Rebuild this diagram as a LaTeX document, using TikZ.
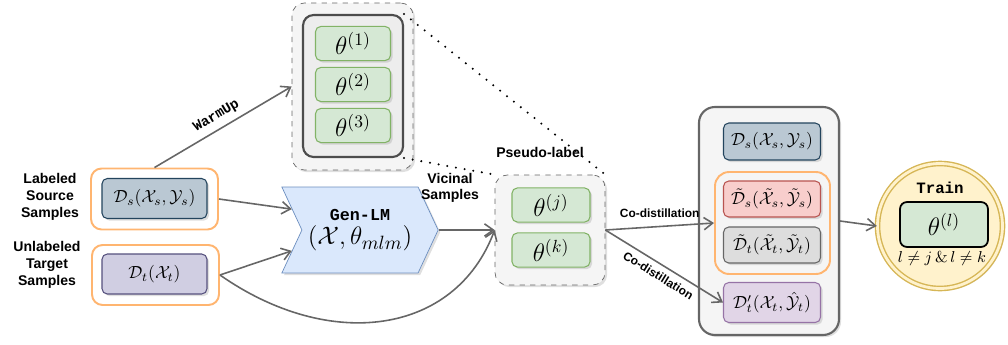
\documentclass[tikz,border=0pt]{standalone}
\usepackage{amsmath, amssymb}
\usepackage{fontspec}
\setsansfont{Liberation Sans}
\setmonofont{Liberation Mono}
\usepackage{xcolor}
\usepackage{tikz}
\usetikzlibrary{calc, positioning, arrows.meta, shapes.symbols, shadows}
\definecolor{edge}{HTML}{666666}
\definecolor{orng}{HTML}{FFB570}
\definecolor{dsfill}{HTML}{BAC8D3}
\definecolor{dsline}{HTML}{23445D}
\definecolor{dtfill}{HTML}{D0CEE2}
\definecolor{dtline}{HTML}{56517E}
\definecolor{grnfill}{HTML}{D5E8D4}
\definecolor{grnline}{HTML}{82B366}
\definecolor{redfill}{HTML}{F8CECC}
\definecolor{redline}{HTML}{B85450}
\definecolor{gryfill}{HTML}{DDDDDD}
\definecolor{purfill}{HTML}{E1D5E7}
\definecolor{purline}{HTML}{9673A6}
\definecolor{genfill}{HTML}{DAE8FC}
\definecolor{genline}{HTML}{6C8EBF}
\definecolor{gold}{HTML}{D6B656}
\definecolor{goldfill}{HTML}{FFF2CC}
\definecolor{panel}{HTML}{F5F5F5}

\begin{document}
\begin{tikzpicture}[x=0.02cm, y=-0.02cm,
    lbl/.style={align=center, font=\sffamily\bfseries\footnotesize},
    small lbl/.style={text=black, font=\sffamily\bfseries\fontsize{6.8}{7.8}\selectfont},
    tt/.style={font=\ttfamily\bfseries\small},
    shade/.style={drop shadow={shadow xshift=1.2pt, shadow yshift=-1.2pt, opacity=0.25}},
    box/.style={shade, rounded corners=3pt, line width=0.6pt, align=center,
                minimum width=2.1cm, minimum height=0.8cm},
    wrap/.style={draw=orng, fill=white, line width=1.1pt, rounded corners=6pt,
                 minimum width=2.54cm, minimum height=1.22cm},
    theta/.style={box, draw=grnline, fill=grnfill, font=\Large,
                  minimum width=1.5cm, minimum height=0.66cm},
    group/.style={draw=edge, fill=panel, dashed, rounded corners=7pt, shade},
    arr/.style={-{Straight Barb[length=5pt, width=7pt]}, line width=0.9pt, edge},
    dots/.style={dash pattern=on 0pt off 5pt, line width=1.3pt, line cap=round}
  ]
    \useasboundingbox (0,0) rectangle (1008,345);

    % inputs
    \node[lbl] (srclbl) at (50,197) {Labeled\\Source\\Samples};
    \node[lbl] (tgtlbl) at (47,265) {Unlabeled\\Target\\Samples};
    \node[wrap] (dsw) at (154.5,199) {};
    \node[box, draw=dsline, fill=dsfill] (ds) at (154.5,198.5) {$\mathcal{D}_s(\mathcal{X}_s,\mathcal{Y}_s)$};
    \node[wrap, minimum height=1.2cm] (dtw) at (155.5,275) {};
    \node[box, draw=dtline, fill=dtfill] (dt) at (154.5,274) {$\mathcal{D}_t(\mathcal{X}_t)$};

    % warm-up models
    \node[group, minimum width=2.42cm, minimum height=3.34cm] (warm) at (352.5,86.5) {};
    \node[draw=black!70, fill=black!7, line width=1.2pt, rounded corners=6pt,
          minimum width=2cm, minimum height=2.84cm] (warmin) at (353,86) {};
    \node[theta] (th1) at (353,43.5) {$\theta^{(1)}$};
    \node[theta] (th2) at (353,84.5) {$\theta^{(2)}$};
    \node[theta] (th3) at (353,125.5) {$\theta^{(3)}$};

    % generator
    \node[signal, signal from=west, signal to=east, signal pointer angle=130,
          draw=genline, fill=genfill, shade, minimum width=2.9cm, minimum height=1.72cm,
          align=center] (gen) at (360,230)
          {{\ttfamily\bfseries\fontsize{9.5}{11}\selectfont Gen-LM}\\[2pt]{\fontsize{15}{18}\selectfont$(\mathcal{X},\theta_{mlm})$}};
    \node[lbl] (vicinal) at (450,188) {Vicinal\\Samples};

    % pseudo-labelling models
    \node[group, minimum width=2.2cm, minimum height=2.2cm] (pseudo) at (550,230) {};
    \node[theta, minimum width=1.56cm, minimum height=0.68cm] (thj) at (551,205) {$\theta^{(j)}$};
    \node[theta, minimum width=1.56cm, minimum height=0.68cm] (thk) at (551,250) {$\theta^{(k)}$};
    \node[lbl] (pslbl) at (540,152) {Pseudo-label};

    % co-distillation data
    \node[draw=edge, fill=panel, line width=1.2pt, rounded corners=9pt, shade,
          minimum width=2.8cm, minimum height=4.56cm] (pool) at (769,221) {};
    \node[box, draw=dsline, fill=dsfill, minimum width=1.94cm, minimum height=0.74cm] (ds2) at (772,141.5) {$\mathcal{D}_s(\mathcal{X}_s,\mathcal{Y}_s)$};
    \node[draw=orng, line width=1.1pt, rounded corners=8pt,
          minimum width=2.3cm, minimum height=2.04cm] (mixed) at (772.5,223) {};
    \node[box, draw=redline, fill=redfill, minimum width=1.94cm, minimum height=0.72cm] (dsv) at (772,199) {$\tilde{\mathcal{D}}_s(\tilde{\mathcal{X}}_s,\tilde{\mathcal{Y}}_s)$};
    \node[box, draw=edge, fill=gryfill, minimum width=1.94cm, minimum height=0.72cm] (dtv) at (772,245) {$\tilde{\mathcal{D}}_t(\tilde{\mathcal{X}}_t,\tilde{\mathcal{Y}}_t)$};
    \node[box, draw=purline, fill=purfill, minimum width=1.94cm, minimum height=0.8cm] (dtp) at (772,302.5) {$\mathcal{D}'_t(\mathcal{X}_t,\hat{\mathcal{Y}}_t)$};

    % final training
    \node[circle, draw=gold, double=goldfill, double distance=1.6pt, line width=0.8pt,
          fill=goldfill, shade, minimum size=2.5cm] (train) at (940,226) {};
    \node[tt] (trainlbl) at (940,188) {Train};
    \node[draw=black, fill=grnfill, line width=1pt, rounded corners=4pt, font=\Large,
          minimum width=1.76cm, minimum height=0.9cm] (thl) at (944,224.5) {$\theta^{(l)}$};
    \node[font=\small, inner sep=0pt] (cond) at (942,258) {$l\neq j\,\&\,l\neq k$};

    \draw[dots] (warmin.north east) -- (pseudo.north east);
    \draw[dots] (warmin.south east) -- (pseudo.north west);

    \draw[arr] (dsw.north) -- node[sloped, above, text=black, font=\ttfamily\bfseries\footnotesize] {WarmUp} (warm.west);
    \draw[arr] (dsw.east) -- (gen.163);
    \draw[arr] (dtw.east) -- (gen.197);
    \draw[arr] (gen.east) -- (pseudo.west);
    \draw[arr] (dtw.east) .. controls (330,352) and (455,335) .. (pseudo.west);
    \draw[arr] (pseudo.east) -- node[above=1pt, small lbl] {Co-distillation} (mixed.west);
    \draw[arr] (pseudo.east) -- node[sloped, below, small lbl] {Co-distillation} (dtp.west);
    \draw[arr] (pool.east) -- (train.west);
  \end{tikzpicture}
\end{document}
